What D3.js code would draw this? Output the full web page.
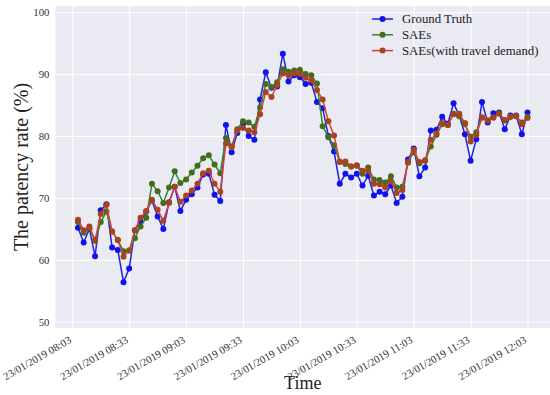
<!DOCTYPE html>
<html>
<head>
<meta charset="utf-8">
<script src="https://cdn.jsdelivr.net/npm/d3@7"></script>
<style>
body { margin: 0; background: #ffffff; }
svg { display: block; }
</style>
</head>
<body>
<svg id="chart_svg" width="550" height="395"></svg>
<script>
// data ***********************************************************************
var times = ["08:06","08:09","08:12","08:15","08:18","08:21","08:24","08:27","08:30","08:33",
             "08:36","08:39","08:42","08:45","08:48","08:51","08:54","08:57","09:00","09:03",
             "09:06","09:09","09:12","09:15","09:18","09:21","09:24","09:27","09:30","09:33",
             "09:36","09:39","09:42","09:45","09:48","09:51","09:54","09:57","10:00","10:03",
             "10:06","10:09","10:12","10:15","10:18","10:21","10:24","10:27","10:30","10:33",
             "10:36","10:39","10:42","10:45","10:48","10:51","10:54","10:57","11:00","11:03",
             "11:06","11:09","11:12","11:15","11:18","11:21","11:24","11:27","11:30","11:33",
             "11:36","11:39","11:42","11:45","11:48","11:51","11:54","11:57","12:00","12:03"]

var groundTruth = [65.2, 62.8, 65.0, 60.6, 68.0, 69.0, 62.0, 61.6, 56.4, 58.6,
                   64.8, 66.2, 67.8, 69.6, 67.0, 65.0, 69.3, 71.8, 67.9, 69.7,
                   70.6, 71.7, 73.8, 73.9, 70.5, 69.5, 81.8, 77.4, 80.5, 82.0,
                   80.0, 79.4, 85.9, 90.3, 87.8, 88.0, 93.3, 88.8, 89.8, 89.5,
                   88.4, 88.6, 85.5, 84.5, 80.0, 77.5, 72.3, 73.9, 73.3, 73.9,
                   72.0, 73.6, 70.4, 71.0, 70.6, 72.0, 69.2, 70.2, 76.2, 78.0,
                   73.5, 74.9, 80.9, 81.0, 83.1, 82.0, 85.3, 83.3, 80.3, 76.0,
                   79.5, 85.5, 82.2, 83.7, 83.8, 81.1, 83.3, 83.3, 80.3, 83.8]

var saes = [66.1, 64.4, 65.1, 63.1, 66.1, 67.8, 64.6, 63.2, 61.4, 61.5,
            63.5, 65.4, 66.8, 72.3, 71.1, 69.2, 71.7, 74.3, 72.4, 73.0,
            74.1, 75.2, 76.4, 76.9, 75.4, 74.0, 79.7, 78.3, 81.1, 82.4,
            82.2, 81.5, 84.6, 88.4, 87.9, 88.7, 90.8, 90.4, 90.6, 90.7,
            90.0, 89.8, 88.5, 81.6, 79.8, 78.5, 75.8, 75.5, 75.1, 75.2,
            73.9, 74.9, 73.0, 72.9, 72.5, 73.5, 71.7, 71.8, 75.7, 77.4,
            75.6, 76.0, 78.3, 80.2, 81.9, 81.8, 83.6, 83.2, 81.9, 79.9,
            80.6, 83.0, 82.5, 83.0, 83.7, 82.5, 83.1, 83.2, 82.2, 83.1]

var saesTravel = [66.5, 64.8, 65.4, 63.2, 67.4, 68.9, 64.6, 63.2, 60.5, 61.5,
                  64.8, 66.8, 67.9, 69.7, 68.1, 66.3, 69.2, 71.8, 69.4, 70.4,
                  71.2, 72.3, 74.0, 74.4, 72.3, 71.0, 78.8, 78.2, 80.9, 81.3,
                  80.9, 80.6, 83.5, 87.1, 86.3, 88.2, 90.1, 89.8, 90.1, 90.0,
                  89.4, 89.0, 87.4, 85.9, 82.4, 80.1, 75.9, 75.9, 75.1, 75.3,
                  74.4, 74.4, 72.3, 72.2, 71.7, 72.7, 70.8, 71.3, 75.8, 77.8,
                  75.8, 76.1, 79.4, 80.4, 82.1, 81.8, 83.5, 83.6, 82.1, 79.1,
                  80.2, 83.0, 82.5, 83.0, 83.6, 82.6, 83.1, 83.2, 81.9, 82.9]

var seriesNames = ["Ground Truth", "SAEs", "SAEs(with travel demand)"]
var lineCol = ["#2222dd", "#2f8a2a", "#e0403a"]
var dotCol = ["#1010f0", "#456b1c", "#a5441e"]

var xTickLabels = ["23/01/2019 08:03", "23/01/2019 08:33", "23/01/2019 09:03", "23/01/2019 09:33",
                   "23/01/2019 10:03", "23/01/2019 10:33", "23/01/2019 11:03", "23/01/2019 11:33",
                   "23/01/2019 12:03"]
var yTicks = [50, 60, 70, 80, 90, 100]

// setup **********************************************************************
var svg = d3.select("#chart_svg")
var serifFont = "'Liberation Serif', 'DejaVu Serif', serif"

var plotLeft = 55.5, plotRight = 550, plotTop = 6, plotBottom = 328;

var parseTime = d3.timeParse("%d/%m/%Y %H:%M")
var dates = times.map(function(t){ return parseTime("23/01/2019 " + t) })
var tickDates = xTickLabels.map(function(t){ return parseTime(t) })

// matplotlib style 5% margin on the time axis
var tMin = d3.min(dates), tMax = d3.max(dates)
var pad = (tMax - tMin) * 0.05
var x = d3.scaleTime()
    .domain([new Date(+tMin - pad), new Date(+tMax + pad)])
    .range([plotLeft, plotRight])

var y = d3.scaleLinear()
    .domain([49, 101])
    .range([plotBottom, plotTop])

// background + grid
svg.append("rect")
    .attr("x", plotLeft)
    .attr("y", plotTop)
    .attr("width", plotRight - plotLeft)
    .attr("height", plotBottom - plotTop)
    .style("fill", "#eaeaf2")

var xAxis = svg.append("g")
    .attr("transform", "translate(0," + plotBottom + ")")
    .call(d3.axisBottom(x).tickValues(tickDates).tickSize(-(plotBottom - plotTop)).tickFormat(function(d, i){ return xTickLabels[i] }))
xAxis.select(".domain").remove()
xAxis.selectAll("line").style("stroke", "#ffffff").style("stroke-width", 1)
xAxis.selectAll("text")
    .style("font-family", serifFont)
    .style("font-size", "10.8px")
    .style("fill", "#333333")
    .attr("text-anchor", "end")
    .attr("dy", "0.7em")
    .attr("transform", "translate(-6,5) rotate(-30)")

var yAxis = svg.append("g")
    .attr("transform", "translate(" + plotLeft + ",0)")
    .call(d3.axisLeft(y).tickValues(yTicks).tickSize(-(plotRight - plotLeft)).tickPadding(6))
yAxis.select(".domain").remove()
yAxis.selectAll("line").style("stroke", "#ffffff").style("stroke-width", 1)
yAxis.selectAll("text")
    .style("font-family", serifFont)
    .style("font-size", "10.8px")
    .style("fill", "#333333")

// series *********************************************************************
var allSeries = [groundTruth, saes, saesTravel]
var line = d3.line()
    .x(function(d, i){ return x(dates[i]) })
    .y(function(d){ return y(d) })

for (var k = 0; k < allSeries.length; k++){
    svg.append("path")
        .datum(allSeries[k])
        .attr("d", line)
        .style("fill", "none")
        .style("stroke", lineCol[k])
        .style("stroke-width", 1.5)
    svg.append("g").selectAll("circle")
        .data(allSeries[k])
        .enter().append("circle")
        .attr("cx", function(d, i){ return x(dates[i]) })
        .attr("cy", function(d){ return y(d) })
        .attr("r", 3)
        .style("fill", dotCol[k])
}

// legend *********************************************************************
var xLegend_Pos = 372
var xLegend_textPos = 402
var yLegend_Pos = 19
for (var key = 0; key < seriesNames.length; key++){
    svg.append("line").attr("x1", xLegend_Pos).attr("x2", xLegend_Pos + 21)
        .attr("y1", yLegend_Pos).attr("y2", yLegend_Pos)
        .style("stroke", lineCol[key]).style("stroke-width", 1.5)
    svg.append("circle").attr("cx", xLegend_Pos + 10.5).attr("cy", yLegend_Pos).attr("r", 3).style("fill", dotCol[key])
    svg.append("text").attr("x", xLegend_textPos).attr("y", yLegend_Pos)
        .text(seriesNames[key])
        .style("font-family", serifFont)
        .style("font-size", "12.8px")
        .style("fill", "#222222")
        .attr("dominant-baseline", "central")
    yLegend_Pos = yLegend_Pos + 15.8
}

// axis titles
svg.append("text")
    .attr("x", (plotLeft + plotRight) / 2)
    .attr("y", 389)
    .attr("text-anchor", "middle")
    .text("Time")
    .style("font-family", serifFont)
    .style("font-size", "18px")
    .style("fill", "#222222")

svg.append("text")
    .attr("transform", "translate(28," + ((plotTop + plotBottom) / 2) + ") rotate(-90)")
    .attr("text-anchor", "middle")
    .text("The patency rate (%)")
    .style("font-family", serifFont)
    .style("font-size", "20px")
    .style("fill", "#222222")
</script>
</body>
</html>
